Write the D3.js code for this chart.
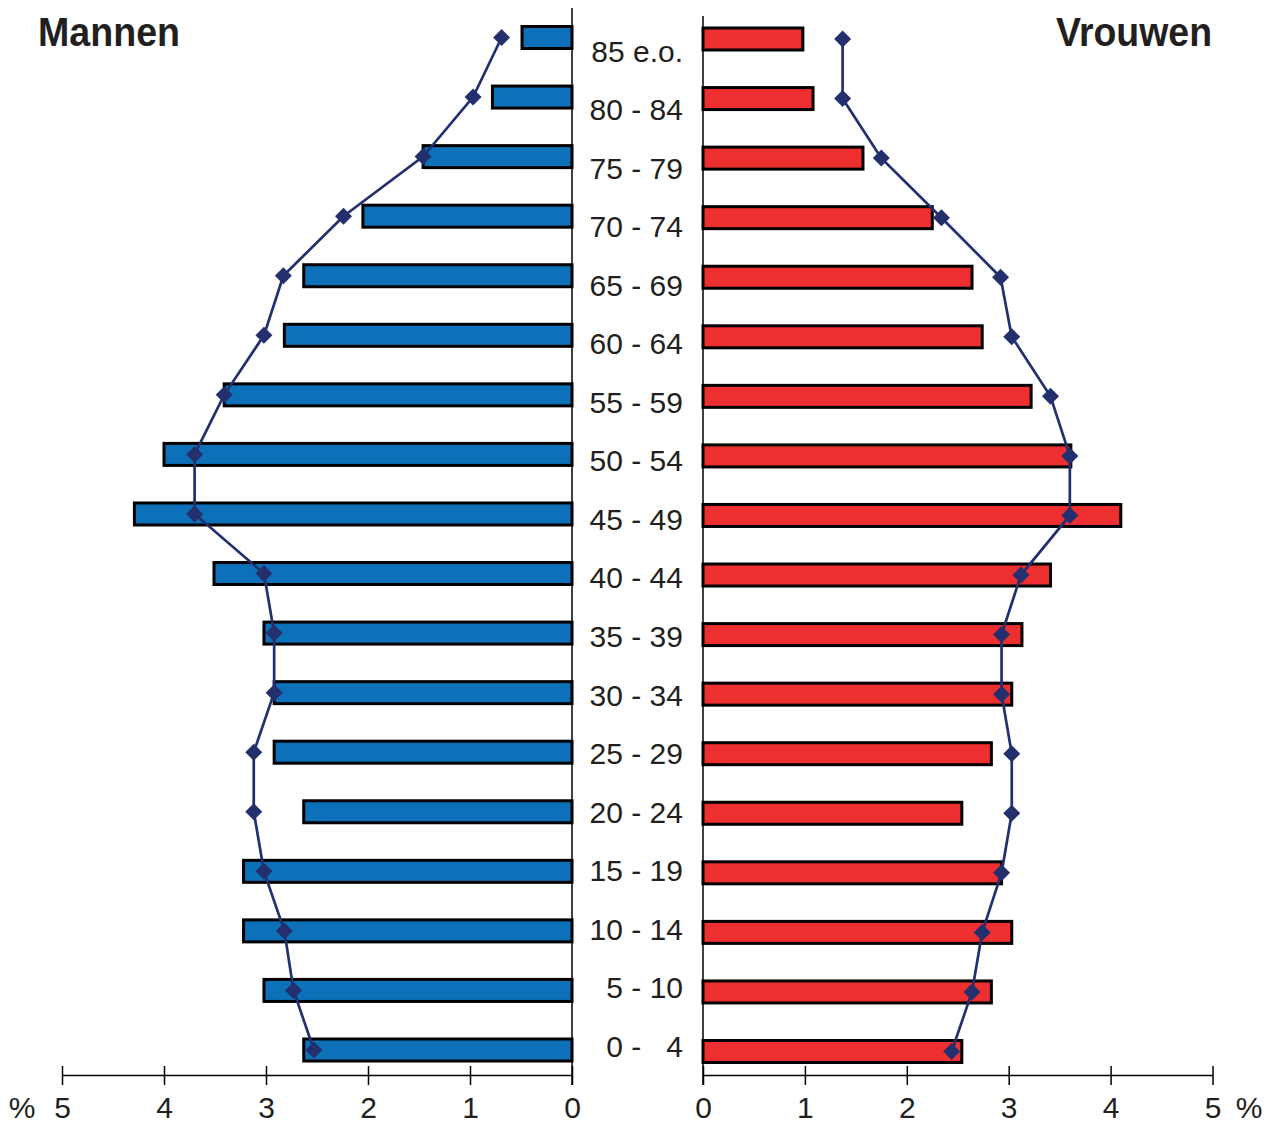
<!DOCTYPE html>
<html>
<head>
<meta charset="utf-8">
<script src="https://cdn.jsdelivr.net/npm/d3@7"></script>
<style>
  html, body { margin: 0; padding: 0; background: #ffffff; }
  svg { display: block; }
  text { font-family: "Liberation Sans", Arial, sans-serif; fill: #231f20; }
</style>
</head>
<body>
<svg id="chart" width="1275" height="1124"></svg>
<script>
// ---- data ----
const ageGroups = ["85 e.o.", "80 - 84", "75 - 79", "70 - 74", "65 - 69", "60 - 64", "55 - 59", "50 - 54",
  "45 - 49", "40 - 44", "35 - 39", "30 - 34", "25 - 29", "20 - 24", "15 - 19", "10 - 14", "5 - 10", "0 -   4"];
const menBars = [0.49, 0.78, 1.46, 2.05, 2.63, 2.82, 3.41, 4.00, 4.29, 3.51, 3.02, 2.92, 2.92, 2.63, 3.22, 3.22, 3.02, 2.63];
const menLine = [0.69, 0.97, 1.46, 2.24, 2.83, 3.02, 3.41, 3.70, 3.70, 3.02, 2.92, 2.92, 3.12, 3.12, 3.02, 2.82, 2.73, 2.53];
const womenBars = [0.98, 1.08, 1.57, 2.25, 2.64, 2.74, 3.22, 3.61, 4.10, 3.41, 3.13, 3.03, 2.83, 2.54, 2.93, 3.03, 2.83, 2.54];
const womenLine = [1.37, 1.37, 1.75, 2.34, 2.92, 3.03, 3.41, 3.60, 3.60, 3.12, 2.93, 2.93, 3.03, 3.03, 2.93, 2.74, 2.64, 2.44];
const tickValues = [0, 1, 2, 3, 4, 5];
const titleMen = "Mannen";
const titleWomen = "Vrouwen";
const unitLabel = "%";

// ---- styles ----
const blue = "#0c71b9", red = "#ee2f2f", navy = "#24306e";

const svg = d3.select("#chart");

const xMen = d3.scaleLinear().domain([0, 5]).range([572, 62]);
const xWomen = d3.scaleLinear().domain([0, 5]).range([703, 1212.5]);
const yRow = d3.scalePoint().domain(ageGroups).range([37.5, 1050]);
const yLabel = d3.scalePoint().domain(ageGroups).range([61.7, 1056.7]);
const barH = 22;
const redOffset = 1.5;

// bars - men
svg.append("g").selectAll("rect").data(ageGroups).join("rect")
  .attr("x", (d, i) => xMen(menBars[i]))
  .attr("y", d => yRow(d) - barH / 2)
  .attr("width", (d, i) => xMen(0) - xMen(menBars[i]))
  .attr("height", barH)
  .attr("fill", blue).attr("stroke", "#000").attr("stroke-width", 3);

// bars - women
svg.append("g").selectAll("rect").data(ageGroups).join("rect")
  .attr("x", xWomen(0))
  .attr("y", d => yRow(d) - barH / 2 + redOffset)
  .attr("width", (d, i) => xWomen(womenBars[i]) - xWomen(0))
  .attr("height", barH)
  .attr("fill", red).attr("stroke", "#000").attr("stroke-width", 3);

// center lines
svg.append("line").attr("x1", 572).attr("x2", 572).attr("y1", 8).attr("y2", 1085)
  .attr("stroke", "#000").attr("stroke-width", 1.5);
svg.append("line").attr("x1", 703).attr("x2", 703).attr("y1", 16).attr("y2", 1085)
  .attr("stroke", "#000").attr("stroke-width", 1.5);

// lines + markers
const diamond = "M0,-8.5L8.5,0L0,8.5L-8.5,0Z";
function drawLine(vals, xs, off) {
  const line = d3.line().x((d, i) => xs(vals[i])).y(d => yRow(d) + off);
  svg.append("path").datum(ageGroups).attr("d", line)
    .attr("fill", "none").attr("stroke", navy).attr("stroke-width", 2.7);
  svg.append("g").selectAll("path").data(ageGroups).join("path")
    .attr("d", diamond)
    .attr("transform", (d, i) => `translate(${xs(vals[i])},${yRow(d) + off})`)
    .attr("fill", navy);
}
drawLine(menLine, xMen, 0);
drawLine(womenLine, xWomen, redOffset);

// age labels
svg.append("g").selectAll("text").data(ageGroups).join("text")
  .attr("x", 683).attr("y", d => yLabel(d))
  .attr("text-anchor", "end").style("white-space", "pre")
  .attr("font-size", 30).text(d => d);

// axes
function styleAxis(g) {
  g.select(".domain").attr("stroke", "#000").attr("stroke-width", 1.5);
  g.selectAll(".tick line").attr("y1", -9).attr("y2", 10).attr("stroke", "#000").attr("stroke-width", 1.5);
  g.selectAll(".tick text").attr("y", 43).attr("dy", 0)
    .attr("font-size", 30).attr("fill", "#231f20")
    .attr("font-family", "Liberation Sans, Arial, sans-serif");
}
svg.append("g").attr("transform", "translate(0,1075)")
  .call(d3.axisBottom(xMen).tickValues(tickValues).tickFormat(d3.format("d")).tickSizeOuter(0))
  .call(styleAxis);
svg.append("g").attr("transform", "translate(0,1075)")
  .call(d3.axisBottom(xWomen).tickValues(tickValues).tickFormat(d3.format("d")).tickSizeOuter(0))
  .call(styleAxis);

svg.append("text").attr("x", 22).attr("y", 1118).attr("text-anchor", "middle")
  .attr("font-size", 30).text(unitLabel);
svg.append("text").attr("x", 1249).attr("y", 1118).attr("text-anchor", "middle")
  .attr("font-size", 30).text(unitLabel);

// titles
svg.append("text").attr("x", 38).attr("y", 46).attr("font-size", 40).attr("font-weight", "bold")
  .attr("textLength", 142).attr("lengthAdjust", "spacingAndGlyphs").text(titleMen);
svg.append("text").attr("x", 1056).attr("y", 46)
  .attr("font-size", 40).attr("font-weight", "bold")
  .attr("textLength", 156).attr("lengthAdjust", "spacingAndGlyphs").text(titleWomen);
</script>
</body>
</html>
